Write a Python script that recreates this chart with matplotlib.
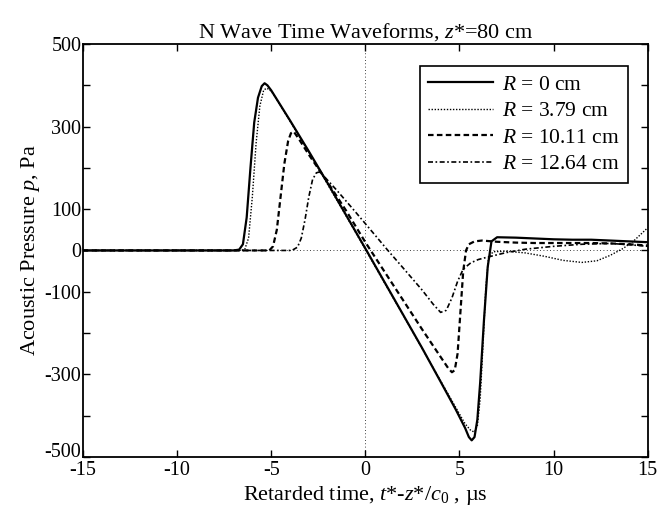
import matplotlib
matplotlib.use("Agg")
import matplotlib.pyplot as plt
import matplotlib.transforms as mtransforms

plt.rcParams['font.family'] = ['Liberation Serif', 'DejaVu Serif']
plt.rcParams['mathtext.fontset'] = 'custom'
plt.rcParams['mathtext.rm'] = 'Liberation Serif'
plt.rcParams['mathtext.it'] = 'Liberation Serif:italic'
plt.rcParams['axes.unicode_minus'] = False

# R = 0 cm
t_r0 = [-15, -7.0, -6.7, -6.5, -6.3, -6.1, -5.9, -5.7, -5.5, -5.35, -5.2, -5.0, -4.0, -3.0,
        -2.0, -1.0, 0.0, 1.0, 2.0, 3.0, 4.0, 4.8, 5.3, 5.5, 5.65, 5.8, 5.95, 6.1, 6.3, 6.5,
        6.7, 7.0, 8.0, 9.0, 10.0, 11.0, 12.0, 13.0, 14.0, 15.0]
p_r0 = [0, 0, 2, 15, 80, 200, 310, 370, 398, 405, 400, 388, 315, 240,
        163, 84, 5, -75, -155, -235, -318, -385, -430, -452, -460, -452, -410, -320, -170, -40,
        22, 32, 31, 29, 27, 26, 26, 24, 22, 20]

# R = 3.79 cm
t_r1 = [-15, -6.6, -6.4, -6.2, -6.0, -5.8, -5.6, -5.4, -5.25, -5.1, -4.9, -4.0, -3.0, -2.0,
        -1.0, 0.0, 1.0, 2.0, 3.0, 4.0, 4.8, 5.3, 5.6, 5.8, 5.95, 6.1, 6.25, 6.4, 6.55, 6.8,
        7.5, 8.5, 9.5, 10.5, 11.5, 12.3, 13.0, 13.7, 14.3, 15.0]
p_r1 = [0, 0, 3, 30, 130, 260, 350, 388, 393, 390, 380, 313, 238, 160,
        82, 3, -77, -156, -236, -316, -380, -420, -436, -440, -425, -360, -230, -90, -15, -3,
        -2, -6, -14, -24, -29, -25, -12, 5, 25, 55]

# R = 10.11 cm
t_r2 = [-15, -5.1, -4.9, -4.7, -4.5, -4.3, -4.1, -3.95, -3.8, -3.5, -3.0, -2.0, -1.0, 0.0,
        1.0, 2.0, 3.0, 4.0, 4.4, 4.6, 4.75, 4.9, 5.05, 5.2, 5.35, 5.5, 5.8, 6.2, 7.0, 8.0,
        9.0, 10.0, 11.0, 12.0, 13.0, 14.0, 15.0]
p_r2 = [0, 0, 10, 50, 130, 210, 265, 284, 288, 268, 232, 165, 95, 20,
        -50, -120, -190, -258, -285, -295, -290, -250, -150, -50, 0, 15, 22, 24, 21, 19,
        18, 18, 18, 18, 17, 15, 12]

# R = 12.64 cm
t_r3 = [-15, -3.9, -3.6, -3.4, -3.2, -3.0, -2.8, -2.6, -2.45, -2.2, -1.5, -0.5, 0.5, 1.2,
        2.0, 3.0, 3.6, 4.0, 4.3, 4.6, 4.9, 5.2, 5.6, 6.0, 6.5, 7.5, 8.5, 10.0, 11.5, 13.0,
        14.0, 15.0]
p_r3 = [0, 0, 8, 30, 75, 130, 172, 188, 190, 180, 145, 92, 38, 0,
        -42, -95, -130, -150, -145, -115, -75, -45, -30, -22, -16, -5, 3, 10, 15, 17,
        14, 10]

series_labels = ['$R$ = 0 cm', '$R$ = 3.79 cm', '$R$ = 10.11 cm', '$R$ = 12.64 cm']
x_ticks = [-15, -10, -5, 0, 5, 10, 15]
y_ticks = list(range(-500, 501, 100))
y_tick_labels = ['-500', '', '-300', '', '-100', '0', '100', '', '300', '', '500']

fig = plt.figure(figsize=(6.63, 5.18), dpi=100)
ax = fig.add_axes([0.125, 0.118, 0.852, 0.797])

ax.axhline(0, color='black', lw=0.6, ls=(0, (1, 3)), zorder=1)
ax.axvline(0, color='black', lw=0.6, ls=(0, (1, 3)), zorder=1)

ax.plot(t_r0, p_r0, color='black', lw=1.6, ls='-', label=series_labels[0])
ax.plot(t_r1, p_r1, color='black', lw=1.0, ls=(0, (1, 1.2)), label=series_labels[1])
ax.plot(t_r2, p_r2, color='black', lw=1.6, ls=(0, (2.5, 1.5)), label=series_labels[2])
ax.plot(t_r3, p_r3, color='black', lw=1.2, ls=(0, (3, 1.5, 1, 1.5)), label=series_labels[3])

ax.set_xlim(-15, 15)
ax.set_ylim(-500, 500)
ax.set_xticks(x_ticks)
ax.set_yticks(y_ticks)
ax.set_yticklabels(y_tick_labels)
ax.tick_params(direction='in', top=True, right=True, length=5, width=1,
               labelsize=14.5, pad=1)
ax.tick_params(axis='x', pad=3)
for s in ax.spines.values():
    s.set_linewidth(1.3)

# lift the -500 label a little so it clears the -15 label
lab = ax.get_yticklabels()[0]
lab.set_transform(lab.get_transform() + mtransforms.ScaledTranslation(0, 5 / 72, fig.dpi_scale_trans))

ax.set_title('N Wave Time Waveforms, $z$*=80 cm', fontsize=16, pad=5)
ax.set_ylabel('Acoustic Pressure $p$, Pa', fontsize=16, labelpad=2)
ax.set_xlabel('Retarded time, $t$*-$z$*/$c_0$ , \u00b5s', fontsize=16, labelpad=3)

leg = ax.legend(loc='upper right', bbox_to_anchor=(0.965, 0.947), borderaxespad=0,
                fancybox=False, framealpha=1, edgecolor='black', fontsize=15.5,
                handlelength=3.0, handletextpad=0.4, labelspacing=0.3,
                borderpad=0.4)
leg.get_frame().set_linewidth(1.2)

fig.savefig('out.png', dpi=100)
